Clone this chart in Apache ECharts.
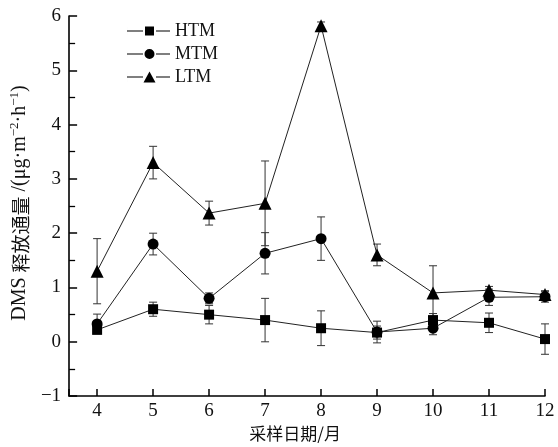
<!DOCTYPE html>
<html><head><meta charset="utf-8">
<script src="https://cdn.jsdelivr.net/npm/echarts@6/dist/echarts.min.js"></script>
<style>html,body{margin:0;padding:0;background:#fff}#c{width:558px;height:447px}</style>
</head><body><div id="c"></div>
<script>
const months = [4, 5, 6, 7, 8, 9, 10, 11, 12];
const htm = [0.22, 0.6, 0.5, 0.4, 0.25, 0.17, 0.4, 0.35, 0.05];
const htmErr = [0.07, 0.13, 0.17, 0.4, 0.32, 0.12, 0.12, 0.18, 0.28];
const mtm = [0.33, 1.8, 0.8, 1.63, 1.9, 0.18, 0.25, 0.82, 0.83];
const mtmErr = [0.18, 0.2, 0.1, 0.38, 0.4, 0.2, 0.12, 0.15, 0.1];
const ltm = [1.3, 3.3, 2.37, 2.55, 5.82, 1.6, 0.9, 0.95, 0.87];
const ltmErr = [0.6, 0.3, 0.22, 0.78, 0.07, 0.2, 0.5, 0.07, 0.07];
const yTicks = [-1, 0, 1, 2, 3, 4, 5, 6];

const font = '"Liberation Serif", "Times New Roman", "Noto Sans CJK SC", serif';
const cjk = '"Noto Sans CJK SC", "Liberation Serif", serif';
const pts = (v) => months.map((m, i) => [m, v[i]]);
const errs = (v, e) => months.map((m, i) => [m, v[i] - e[i], v[i] + e[i]]);

// legend icons: line - gap - marker - gap - line (box 43 x 11)
const lineL = 'M0 4.9 H16 V6.1 H0 Z ';
const lineR = 'M29 4.9 H43 V6.1 H29 Z ';
const vspan = 'M0 0 H0.01 V11 H0 Z';
const iconSq = 'path://' + lineL + 'M18 1 H27 V10 H18 Z ' + lineR + vspan;
const iconCi = 'path://' + lineL + 'M22.5 0.5 A5 5 0 1 1 22.49 0.5 Z ' + lineR + vspan;
const iconTr = 'path://' + lineL + 'M22.5 0 L28.5 11 L16.5 11 Z ' + lineR + vspan;

function errSeries(name, v, e) {
  return {
    type: 'custom', name: name + '_err', z: 1,
    data: errs(v, e),
    renderItem: function (params, api) {
      const x = api.value(0);
      const lo = api.coord([x, api.value(1)]);
      const hi = api.coord([x, api.value(2)]);
      const w = 4;
      const st = { stroke: '#333', lineWidth: 1 };
      return { type: 'group', children: [
        { type: 'line', shape: { x1: lo[0], y1: lo[1], x2: hi[0], y2: hi[1] }, style: st },
        { type: 'line', shape: { x1: lo[0] - w, y1: lo[1], x2: lo[0] + w, y2: lo[1] }, style: st },
        { type: 'line', shape: { x1: hi[0] - w, y1: hi[1], x2: hi[0] + w, y2: hi[1] }, style: st }
      ]};
    },
    silent: true
  };
}
function lineSeries(name, v, sym, size) {
  return {
    type: 'line', name: name, z: 3, data: pts(v),
    symbol: sym, symbolSize: size, showSymbol: true,
    itemStyle: { color: '#000' },
    lineStyle: { color: '#222', width: 1 }
  };
}

const chart = echarts.init(document.getElementById('c'));
chart.setOption({
  animation: false,
  backgroundColor: '#fff',
  grid: { left: 53, right: 13, top: 16, bottom: 47 },
  legend: {
    orient: 'vertical', left: 122, top: 17, itemGap: 5,
    itemWidth: 43, itemHeight: 11,
    data: [
      { name: 'HTM', icon: iconSq },
      { name: 'MTM', icon: iconCi },
      { name: 'LTM', icon: iconTr }
    ],
    textStyle: { fontFamily: font, fontSize: 18, color: '#111', lineHeight: 18 }
  },
  xAxis: {
    type: 'value', min: 3.5, max: 12, minInterval: 1, maxInterval: 1,
    name: '采样日期/月', nameLocation: 'middle', nameGap: 27,
    nameTextStyle: { fontFamily: cjk, fontSize: 17, color: '#111', padding: [0, 24, 0, 0] },
    axisLine: { onZero: false, lineStyle: { color: '#000', width: 1.6 } },
    axisTick: { inside: true, length: 7, lineStyle: { color: '#000', width: 1.5 } },
    axisLabel: { fontFamily: font, fontSize: 19, color: '#111', margin: 5,
      formatter: (v) => (v % 1 === 0 ? String(v) : '') },
    splitLine: { show: false }
  },
  yAxis: {
    type: 'value', min: yTicks[0], max: yTicks[yTicks.length - 1], interval: 1,
    name: '{n|DMS }{c|释放通量}{n| /(μg·m}{s|−2}{n|·h}{s|−1}{n|)}',
    nameLocation: 'middle', nameGap: 21, nameRotate: 90,
    nameTextStyle: {
      fontFamily: font, fontSize: 20, color: '#111', padding: [0, 0, 0, 6],
      rich: {
        n: { fontFamily: font, fontSize: 20, color: '#111', lineHeight: 22, verticalAlign: 'bottom' },
        c: { fontFamily: cjk, fontSize: 19, color: '#111', lineHeight: 22, verticalAlign: 'bottom' },
        s: { fontFamily: font, fontSize: 13, color: '#111', lineHeight: 12, verticalAlign: 'top' }
      }
    },
    axisLine: { show: true, lineStyle: { color: '#000', width: 1.6 } },
    axisTick: { show: true, inside: true, length: 8, lineStyle: { color: '#000', width: 1.5 } },
    minorTick: { show: true, splitNumber: 2, length: 6, lineStyle: { color: '#000', width: 1.3 } },
    axisLabel: { fontFamily: font, fontSize: 19, color: '#111', margin: 8,
      formatter: (v) => (v < 0 ? '\u2212' + Math.abs(v) : String(v)) },
    splitLine: { show: false }
  },
  series: [
    errSeries('HTM', htm, htmErr),
    errSeries('MTM', mtm, mtmErr),
    errSeries('LTM', ltm, ltmErr),
    lineSeries('HTM', htm, 'rect', 10),
    lineSeries('MTM', mtm, 'circle', 11),
    lineSeries('LTM', ltm, 'triangle', 13)
  ]
});
</script></body></html>
